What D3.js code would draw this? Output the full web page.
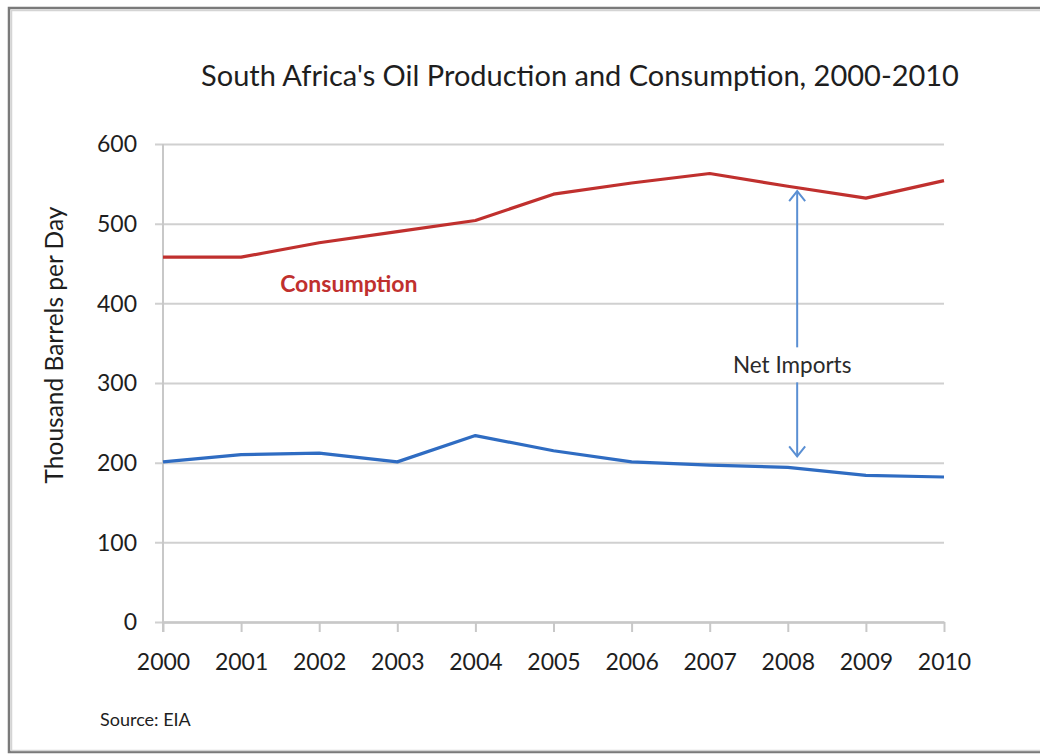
<!DOCTYPE html>
<html>
<head>
<meta charset="utf-8">
<script src="https://cdn.jsdelivr.net/npm/d3@7"></script>
<style>
  html, body { margin: 0; padding: 0; background: #fff; }
  svg { display: block; }
  text { font-family: Lato, "Open Sans", sans-serif; }
</style>
</head>
<body>
<svg id="chart" width="1040" height="754"></svg>
<script>
// South Africa oil production and consumption, thousand barrels per day
const years = [2000, 2001, 2002, 2003, 2004, 2005, 2006, 2007, 2008, 2009, 2010];
const consumption = [458, 458, 476, 490, 504, 537, 551, 563, 547, 532, 554];
const production = [201, 210, 212, 201, 234, 215, 201, 197, 194, 184, 182];
const yTicks = [0, 100, 200, 300, 400, 500, 600];

// net imports annotation: year position and arrow ends (thousand b/d)
const importsYear = 2008.12;
const importsEnds = [208, 541];

const svg = d3.select("#chart");

// outer frame
svg.append("rect")
  .attr("x", 9).attr("y", 8).attr("width", 1040).attr("height", 744)
  .attr("fill", "#fff").attr("stroke", "#7a7a7a").attr("stroke-width", 2.5);
svg.append("rect")
  .attr("x", 11.5).attr("y", 10.5).attr("width", 1040).attr("height", 740)
  .attr("fill", "none").attr("stroke", "#d4d4d4").attr("stroke-width", 1.5);

const x = d3.scaleLinear().domain([2000, 2010]).range([163, 944]);
const y = d3.scaleLinear().domain([0, 600]).range([622, 144]);

// horizontal gridlines with left tick stubs
const yAxis = d3.axisLeft(y).tickValues(yTicks).tickSize(-(944 - 155)).tickPadding(18).tickSizeOuter(0);
const gy = svg.append("g").attr("transform", "translate(155,0)").call(yAxis);
gy.select(".domain").remove();
gy.selectAll(".tick line").attr("stroke", "#d0d0d0").attr("stroke-width", 2);
gy.selectAll(".tick text").attr("font-size", 23).attr("fill", "#1e1e1e")
  .attr("x", -18).attr("dy", "0.34em");

// vertical axis line
svg.append("line")
  .attr("x1", x(2000)).attr("x2", x(2000)).attr("y1", y(600)).attr("y2", y(0) + 10)
  .attr("stroke", "#c8c8c8").attr("stroke-width", 2);

// x axis
const xAxis = d3.axisBottom(x).tickValues(years).tickFormat(d3.format("d")).tickSize(10).tickSizeOuter(0).tickPadding(22);
const gx = svg.append("g").attr("transform", `translate(0,${y(0)})`).call(xAxis);
gx.select(".domain").attr("stroke", "#c8c8c8").attr("stroke-width", 2.5);
gx.selectAll(".tick line").attr("stroke", "#c8c8c8").attr("stroke-width", 2);
gx.selectAll(".tick text").attr("font-size", 23).attr("fill", "#1e1e1e");

// series lines
const line = d3.line().x((d, i) => x(years[i])).y(d => y(d));
svg.append("path").datum(consumption)
  .attr("d", line).attr("fill", "none").attr("stroke", "#c0302e").attr("stroke-width", 3.2)
  .attr("stroke-linejoin", "round");
svg.append("path").datum(production)
  .attr("d", line).attr("fill", "none").attr("stroke", "#2f6cc2").attr("stroke-width", 3.2)
  .attr("stroke-linejoin", "round");

// title
svg.append("text")
  .attr("x", 580).attr("y", 86).attr("text-anchor", "middle")
  .attr("font-size", 29).attr("fill", "#1e1e1e")
  .text("South Africa's Oil Production and Consumption, 2000-2010");

// y axis title
svg.append("text")
  .attr("transform", `translate(63,${(y(600) + y(0)) / 2 - 38}) rotate(-90)`)
  .attr("text-anchor", "middle").attr("font-size", 24.5).attr("fill", "#1e1e1e")
  .text("Thousand Barrels per Day");

// series label
svg.append("text")
  .attr("x", x(2001.5)).attr("y", y(400) - 11)
  .attr("font-size", 23).attr("font-weight", "bold").attr("fill", "#c0302e")
  .text("Consumption");

// net imports arrow with label in the gap
const ax = x(importsYear);
const label = svg.append("text")
  .attr("x", ax - 5).attr("y", y(322)).attr("dy", "0.35em")
  .attr("text-anchor", "middle").attr("font-size", 22.5).attr("fill", "#2a2a2a")
  .text("Net Imports");
const bb = label.node().getBBox();
const arrowColor = "#5a8fd3";
const topTip = y(importsEnds[1]), botTip = y(importsEnds[0]);
svg.append("line").attr("x1", ax).attr("x2", ax).attr("y1", topTip).attr("y2", bb.y - 4)
  .attr("stroke", arrowColor).attr("stroke-width", 2);
svg.append("line").attr("x1", ax).attr("x2", ax).attr("y1", bb.y + bb.height + 4).attr("y2", botTip)
  .attr("stroke", arrowColor).attr("stroke-width", 2);
svg.append("path")
  .attr("d", `M${ax - 8},${topTip + 10} L${ax},${topTip} L${ax + 8},${topTip + 10}`)
  .attr("fill", "none").attr("stroke", arrowColor).attr("stroke-width", 2);
svg.append("path")
  .attr("d", `M${ax - 8},${botTip - 10} L${ax},${botTip} L${ax + 8},${botTip - 10}`)
  .attr("fill", "none").attr("stroke", arrowColor).attr("stroke-width", 2);

// source note
svg.append("text")
  .attr("x", 100).attr("y", 726).attr("font-size", 18).attr("fill", "#1e1e1e")
  .text("Source: EIA");
</script>
</body>
</html>
